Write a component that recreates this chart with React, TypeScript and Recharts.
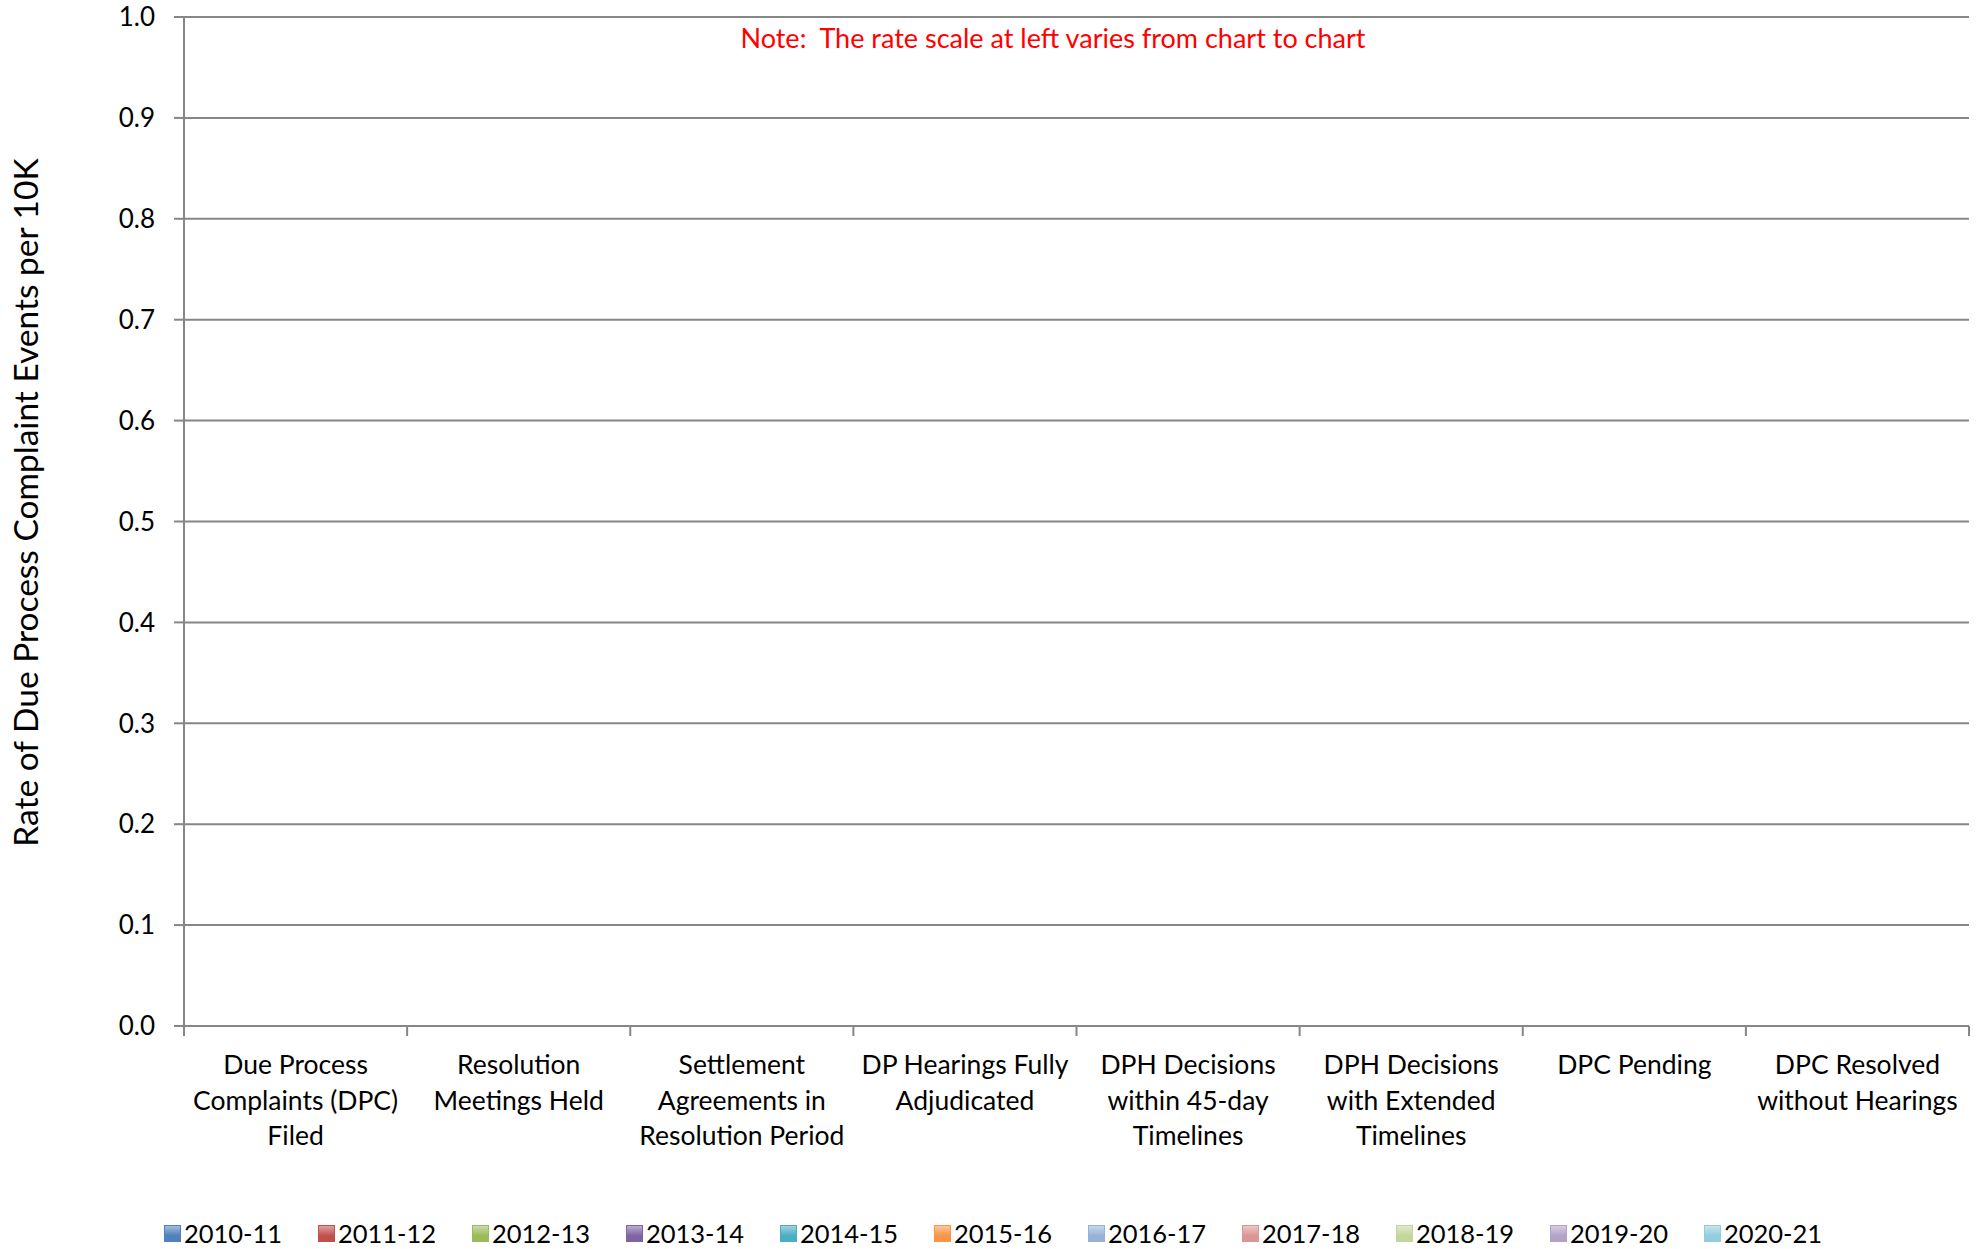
import React from 'react';
import { BarChart, Bar, XAxis, YAxis, CartesianGrid, Legend, Label } from 'recharts';

// Category names, with the line breaks used under the axis
const categories = [
    'Due Process\nComplaints (DPC)\nFiled',
    'Resolution\nMeetings Held',
    'Settlement\nAgreements in\nResolution Period',
    'DP Hearings Fully\nAdjudicated',
    'DPH Decisions\nwithin 45-day\nTimelines',
    'DPH Decisions\nwith Extended\nTimelines',
    'DPC Pending',
    'DPC Resolved\nwithout Hearings',
];

const years = ['2010-11', '2011-12', '2012-13', '2013-14', '2014-15', '2015-16', '2016-17', '2017-18', '2018-19', '2019-20', '2020-21'];
const yearColors = ['#4F81BD', '#C0504D', '#9BBB59', '#8064A2', '#4BACC6', '#F79646', '#95B3D7', '#D99694', '#C3D69B', '#B3A2C7', '#93CDDD'];

// Every rate is zero in this chart, so no bar shows above the axis
const rates2010 = [0, 0, 0, 0, 0, 0, 0, 0];
const rates2011 = [0, 0, 0, 0, 0, 0, 0, 0];
const rates2012 = [0, 0, 0, 0, 0, 0, 0, 0];
const rates2013 = [0, 0, 0, 0, 0, 0, 0, 0];
const rates2014 = [0, 0, 0, 0, 0, 0, 0, 0];
const rates2015 = [0, 0, 0, 0, 0, 0, 0, 0];
const rates2016 = [0, 0, 0, 0, 0, 0, 0, 0];
const rates2017 = [0, 0, 0, 0, 0, 0, 0, 0];
const rates2018 = [0, 0, 0, 0, 0, 0, 0, 0];
const rates2019 = [0, 0, 0, 0, 0, 0, 0, 0];
const rates2020 = [0, 0, 0, 0, 0, 0, 0, 0];
const seriesRates = [rates2010, rates2011, rates2012, rates2013, rates2014, rates2015, rates2016, rates2017, rates2018, rates2019, rates2020];

const yTicks = [0, 0.1, 0.2, 0.3, 0.4, 0.5, 0.6, 0.7, 0.8, 0.9, 1.0];

const note = 'Note:  The rate scale at left varies from chart to chart';
const yTitle = 'Rate of Due Process Complaint Events per 10K';

const FONT = 'Lato, "Open Sans", sans-serif';
const axisColor = '#868686';

const chartData = categories.map((name, i) => {
    const row: Record<string, string | number> = { name };
    years.forEach((y, j) => {
        row[y] = seriesRates[j][i];
    });
    return row;
});

// Excel puts the category tick marks on the band edges, not the centres
const CategoryTick = (props: any) => {
    const { x, y, payload } = props;
    const half = payload.offset || 0;
    const lines = String(payload.value).split('\n');
    const isLast = payload.index === categories.length - 1;
    return (
        <g>
            <line x1={x - half} x2={x - half} y1={y} y2={y + 10} stroke={axisColor} strokeWidth={2} />
            {isLast && <line x1={x + half} x2={x + half} y1={y} y2={y + 10} stroke={axisColor} strokeWidth={2} />}
            <text x={x} y={y} textAnchor="middle" fill="#000" fontFamily={FONT} fontSize={26.5}>
                {lines.map((line, i) => (
                    <tspan key={i} x={x} dy={i === 0 ? 48 : 35.5}>
                        {line}
                    </tspan>
                ))}
            </text>
        </g>
    );
};

const renderYTitle = (props: any) => {
    const vb = props.viewBox;
    const cx = vb.x + 25;
    const cy = vb.y + vb.height / 2 - 19;
    return (
        <text
            x={cx}
            y={cy}
            transform={`rotate(-90 ${cx} ${cy})`}
            textAnchor="middle"
            dominantBaseline="central"
            fill="#000"
            fontFamily={FONT}
            fontSize={33.5}
        >
            {yTitle}
        </text>
    );
};

const renderLegend = (props: any) => {
    const items = props.payload || [];
    return (
        <div style={{ display: 'flex', justifyContent: 'center', fontFamily: FONT, fontSize: 25.5, color: '#000', paddingTop: 3 }}>
            {items.map((item: any, i: number) => (
                <div
                    key={item.value}
                    style={{ display: 'flex', alignItems: 'center', width: i === items.length - 1 ? 'auto' : 154 }}
                >
                    <span
                        style={{
                            display: 'inline-block',
                            width: 17,
                            height: 17,
                            marginRight: 3,
                            background: `linear-gradient(180deg, ${item.color}88 0%, ${item.color} 65%)`,
                            border: `1px solid ${item.color}`,
                            boxSizing: 'border-box',
                        }}
                    />
                    <span>{item.value}</span>
                </div>
            ))}
        </div>
    );
};

const App: React.FC = () => {
    return (
        <div style={{ position: 'absolute', left: 0, top: 0, width: 1986, height: 1249, background: '#fff' }}>
            <BarChart
                width={1986}
                height={1249}
                data={chartData}
                margin={{ top: 17, right: 17, left: 0, bottom: 0 }}
                barCategoryGap="20%"
            >
                <CartesianGrid vertical={false} stroke={axisColor} strokeWidth={2} />
                <XAxis
                    dataKey="name"
                    type="category"
                    interval={0}
                    height={189}
                    tickSize={0}
                    tickMargin={0}
                    axisLine={{ stroke: axisColor, strokeWidth: 2 }}
                    tickLine={false}
                    tick={<CategoryTick />}
                />
                <YAxis
                    domain={[0, 1]}
                    ticks={yTicks}
                    width={184}
                    tickSize={10}
                    tickMargin={19}
                    tickFormatter={(v: number) => v.toFixed(1)}
                    axisLine={{ stroke: axisColor, strokeWidth: 2 }}
                    tickLine={{ stroke: axisColor, strokeWidth: 2 }}
                    tick={{ fill: '#000', fontFamily: FONT, fontSize: 26 }}
                >
                    <Label content={renderYTitle} />
                </YAxis>
                <Legend
                    verticalAlign="bottom"
                    align="center"
                    content={renderLegend}
                    wrapperStyle={{ left: 0, width: 1986, height: 34, bottom: 0 }}
                />
                {years.map((y, j) => (
                    <Bar key={y} dataKey={y} name={y} fill={yearColors[j]} isAnimationActive={false} />
                ))}
            </BarChart>
            <div
                style={{
                    position: 'absolute',
                    left: 553,
                    width: 1000,
                    top: 23,
                    textAlign: 'center',
                    color: '#FF0000',
                    fontFamily: FONT,
                    fontSize: 27,
                    lineHeight: '30px',
                    whiteSpace: 'pre',
                }}
            >
                {note}
            </div>
        </div>
    );
};

export default App;
